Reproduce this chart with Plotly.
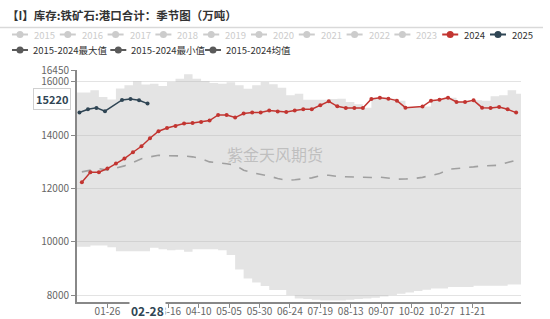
import plotly.graph_objects as go

# ---------------- data ----------------
dates_2024 = ["01-05","01-12","01-19","01-26","02-02","02-09","02-16","02-23","03-01","03-08",
              "03-15","03-22","03-29","04-05","04-12","04-19","04-26","05-03","05-10","05-17",
              "05-24","05-31","06-07","06-14","06-21","06-28","07-05","07-12","07-19","07-26",
              "08-02","08-09","08-16","08-23","08-30","09-06","09-13","09-20","09-27","10-11",
              "10-18","10-25","11-01","11-08","11-15","11-22","11-29","12-06","12-13","12-20","12-27"]
values_2024 = [12237,12612,12612,12750,12938,13125,13362,13587,13887,14150,
               14273,14350,14439,14461,14499,14551,14761,14761,14664,14814,
               14851,14851,14926,14889,14874,14926,14975,14975,15125,15275,
               15087,15025,15025,15025,15362,15412,15375,15300,15037,15075,
               15300,15337,15412,15250,15250,15312,15037,15025,15062,14975,14850]

dates_2025 = ["01-03","01-10","01-17","01-24","02-07","02-14","02-21","02-28"]
values_2025 = [14852,14979,15028,14905,15327,15364,15316,15189]

band_dates = ["01-01","01-12","01-19","01-26","02-02","02-09","02-16","02-23","03-01","03-08",
              "03-15","03-22","03-29","04-05","04-12","04-19","04-26","05-03","05-10","05-17",
              "05-24","05-31","06-07","06-14","06-21","06-28","07-05","07-12","07-19","07-26",
              "08-02","08-09","08-16","08-23","08-30","09-06","09-13","09-20","09-27","10-04",
              "10-11","10-18","10-25","11-01","11-08","11-15","11-22","11-29","12-06","12-13",
              "12-20","12-27"]
band_max = [15601,15687,15437,15339,15751,15875,16025,15901,15937,15849,
            16000,16125,16287,16125,16037,15962,15937,15987,15875,15750,
            15875,16000,15912,15787,15500,15562,15337,15337,15337,15362,
            15375,15250,15162,15037,15412,15412,15375,15300,15050,15050,
            15075,15312,15350,15412,15250,15250,15312,15300,15462,15500,
            15687,15562]
band_min = [9811,9862,9862,9800,9650,9650,9650,9650,9775,9725,
            9687,9700,9625,9725,9725,9725,9687,9500,8962,8625,
            8475,8337,8187,8187,8000,7875,7850,7820,7800,7800,
            7800,7820,7850,7870,7900,7950,8000,8050,8100,8150,
            8200,8250,8250,8300,8300,8300,8350,8350,8350,8350,
            8400,8400]

avg_dates = ["01-05","01-12","01-19","01-26","02-02","02-09","02-16","02-23","03-01","03-08",
             "03-15","03-22","03-29","04-05","04-12","04-19","04-26","05-03","05-10","05-17",
             "05-24","05-31","06-07","06-14","06-21","06-28","07-05","07-12","07-19","07-26",
             "08-02","08-09","08-16","08-23","08-30","09-06","09-13","09-20","09-27","10-04",
             "10-11","10-18","10-25","11-01","11-08","11-15","11-22","11-29","12-06","12-13",
             "12-20","12-27"]
avg_values = [12625,12700,12750,12690,12780,12850,12980,13120,13190,13250,
              13230,13225,13225,13190,13125,13000,12970,12930,12875,12687,
              12600,12540,12462,12380,12312,12330,12375,12400,12480,12500,
              12450,12437,12420,12412,12412,12430,12380,12350,12360,12375,
              12420,12500,12560,12720,12760,12790,12812,12850,12860,12875,
              12980,13062]

x_tick_dates = ["01-26","02-20","03-16","04-10","05-05","05-30","06-24","07-19",
                "08-13","09-07","10-02","10-27","11-21"]
y_ticks = [8000, 10000, 12000, 14000, 16000, 16450]
legend_years = ["2015","2016","2017","2018","2019","2020","2021","2022","2023","2024","2025"]
legend_stats = ["2015-2024最大值", "2015-2024最小值", "2015-2024均值"]
pointer_x_label = "02-28"
pointer_y_label = "15220"
title_text = "【I】库存:铁矿石:港口合计：季节图（万吨）"
watermark = "紫金天风期货"

# ---------------- helpers ----------------
YEAR = "2024-"
def d(s):
    return YEAR + s

RED = "#c23531"
NAVY = "#2f4554"
FONT = "Noto Sans CJK SC"

W, H = 550, 319
L, R, T, B = 77, 29, 70, 17
PW, PH = W - L - R, H - T - B

def px(xp):
    return (xp - L) / PW

def py(yp):
    return (H - B - yp) / PH

fig = go.Figure()

# band (min invisible, max filled to min)
bx = [d(s) for s in band_dates] + [d("12-31")]
fig.add_trace(go.Scatter(x=bx, y=band_min + [band_min[-1]], mode="lines",
                         line=dict(width=0, shape="hv"), hoverinfo="skip", showlegend=False))
fig.add_trace(go.Scatter(x=bx, y=band_max + [band_max[-1]], mode="lines",
                         line=dict(width=0, shape="hv"), fill="tonexty",
                         fillcolor="rgba(185,185,185,0.38)", hoverinfo="skip", showlegend=False))

# average dashed
fig.add_trace(go.Scatter(x=[d(s) for s in avg_dates], y=avg_values, mode="lines",
                         line=dict(color="#a0a0a0", width=1.6, dash="dash"), showlegend=False))

# 2024
fig.add_trace(go.Scatter(x=[d(s) for s in dates_2024], y=values_2024, mode="lines+markers",
                         line=dict(color=RED, width=1.5), marker=dict(size=4, color=RED),
                         showlegend=False))
# 2025
fig.add_trace(go.Scatter(x=[d(s) for s in dates_2025], y=values_2025, mode="lines+markers",
                         line=dict(color=NAVY, width=1.5), marker=dict(size=4, color=NAVY),
                         showlegend=False))

shapes = []
annotations = []

# title + separator
annotations.append(dict(text="<b>" + title_text + "</b>", x=px(5), y=py(15), xref="paper", yref="paper",
                        xanchor="left", yanchor="middle", showarrow=False,
                        font=dict(family=FONT, size=11.5, color="#333")))
shapes.append(dict(type="line", xref="paper", yref="paper", x0=px(0), x1=px(543), y0=py(27.5), y1=py(27.5),
                   line=dict(color="#d9d9d9", width=1.5)))

# legend row 1
for k, name in enumerate(legend_years):
    c = 20 + 47.8 * k
    if name == "2024":
        col, tcol = RED, "#333"
    elif name == "2025":
        col, tcol = NAVY, "#333"
    else:
        col, tcol = "#cccccc", "#cccccc"
    yy = 34.5
    shapes.append(dict(type="line", xref="paper", yref="paper", x0=px(c - 8), x1=px(c + 8),
                       y0=py(yy), y1=py(yy), line=dict(color=col, width=2)))
    shapes.append(dict(type="circle", xref="paper", yref="paper", x0=px(c - 3.5), x1=px(c + 3.5),
                       y0=py(yy - 3.5), y1=py(yy + 3.5), fillcolor=col, line=dict(width=0)))
    annotations.append(dict(text=name, x=px(c + 12), y=py(yy), xref="paper", yref="paper",
                            xanchor="left", yanchor="middle", showarrow=False,
                            font=dict(family=FONT, size=9.5, color=tcol)))

# legend row 2
for k, (name, c) in enumerate(zip(legend_stats, [20, 118.3, 213])):
    yy = 50
    col = "#5a5a5a"
    shapes.append(dict(type="line", xref="paper", yref="paper", x0=px(c - 8), x1=px(c + 8),
                       y0=py(yy), y1=py(yy), line=dict(color=col, width=2)))
    shapes.append(dict(type="circle", xref="paper", yref="paper", x0=px(c - 3.5), x1=px(c + 3.5),
                       y0=py(yy - 3.5), y1=py(yy + 3.5), fillcolor=col, line=dict(width=0)))
    annotations.append(dict(text=name, x=px(c + 11), y=py(yy), xref="paper", yref="paper",
                            xanchor="left", yanchor="middle", showarrow=False,
                            font=dict(family=FONT, size=9.5, color="#333")))

# watermark
annotations.append(dict(text=watermark, x=px(275), y=py(154), xref="paper", yref="paper",
                        xanchor="center", yanchor="middle", showarrow=False,
                        font=dict(family=FONT, size=16, color="rgba(160,160,160,0.55)")))

# axis pointer labels
annotations.append(dict(text="<b>" + pointer_x_label + "</b>", x=d(pointer_x_label), y=py(310.5),
                        xref="x", yref="paper", xanchor="center", yanchor="middle", showarrow=False,
                        bgcolor="white", borderpad=1,
                        font=dict(family=FONT, size=12, color=NAVY)))
annotations.append(dict(text="<b>" + pointer_y_label + "</b>", x=px(71), y=py(99),
                        xref="paper", yref="paper", xanchor="right", yanchor="middle", showarrow=False,
                        bgcolor="white", bordercolor="#d0d0d0", borderwidth=1, borderpad=2,
                        font=dict(family=FONT, size=11, color=NAVY)))

# the 02-20 tick label is hidden beneath the pointer label in the reference
tick_text = ["" if s == "02-20" else s for s in x_tick_dates]

fig.update_layout(
    width=W, height=H,
    margin=dict(l=L, r=R, t=T, b=B, pad=0, autoexpand=False),
    paper_bgcolor="white", plot_bgcolor="white",
    showlegend=False,
    shapes=shapes, annotations=annotations,
    font=dict(family=FONT, size=10, color="#666"),
)
fig.update_xaxes(
    type="date", range=[d("01-01"), d("12-31")], automargin=False,
    tickvals=[d(s) for s in x_tick_dates], ticktext=tick_text,
    showgrid=False, showline=True, linecolor="#888", linewidth=2,
    ticks="outside", ticklen=4, tickcolor="#888",
    ticklabelstandoff=-5,
    tickfont=dict(family=FONT, size=10, color="#666"),
    zeroline=False,
)
fig.update_yaxes(
    range=[7740, 16450], tickvals=y_ticks, ticktext=[str(v) for v in y_ticks], automargin=False,
    showgrid=True, gridcolor="#e3e3e3", gridwidth=1,
    showline=True, linecolor="#888", linewidth=2,
    ticks="outside", ticklen=4, tickcolor="#888",
    tickfont=dict(family=FONT, size=10, color="#666"),
    zeroline=False,
)

fig.write_html("out.html")
